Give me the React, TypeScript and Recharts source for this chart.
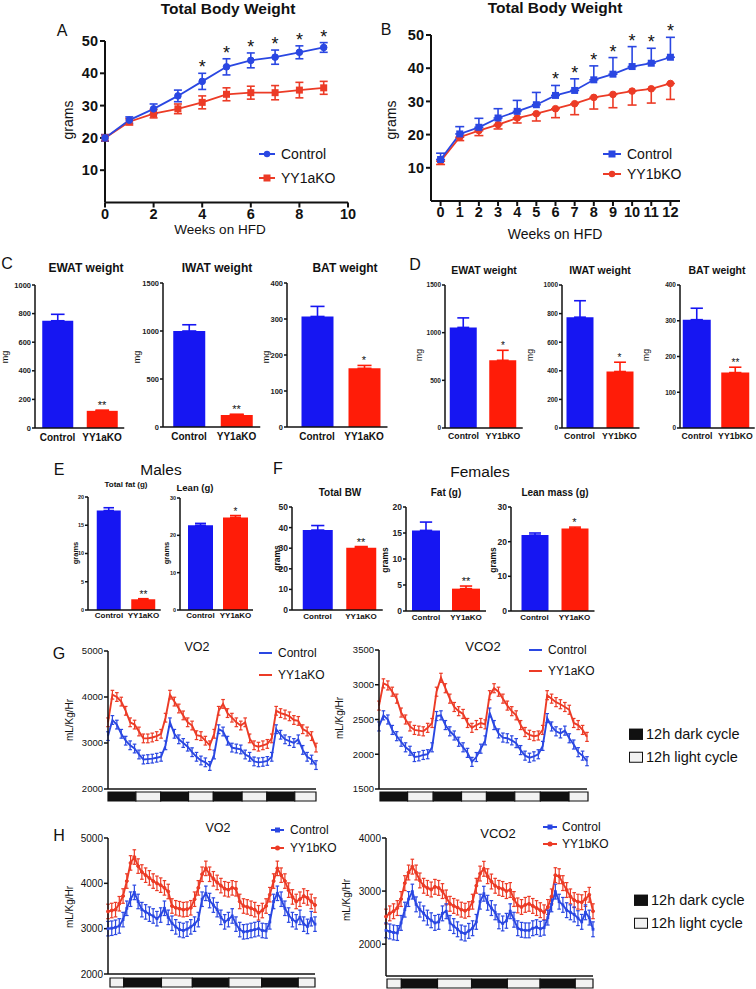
import React from "react";
import { Bar, BarChart, ComposedChart, ErrorBar, Line, Scatter, XAxis, YAxis } from "recharts";

// Colours picked off the figure: lines are a softer blue/red than the solid bars.
const BLUE = "#2a47e2";
const RED = "#ec3b26";
const BAR_BLUE = "#1616f2";
const BAR_RED = "#ff1c08";
const INK = "#111";
const FONT = "'Liberation Sans', Arial, Helvetica, sans-serif";

// ── A: total body weight, YY1aKO ─────────────────────────────────────
const WEEKS_A = [0, 1, 2, 3, 4, 5, 6, 7, 8, 9];
const A_CTRL = [20, 25.5, 29, 33, 37.5, 42, 44, 45, 46.5, 48];
const A_CTRL_SEM = [1, 1, 1.5, 1.8, 2.5, 2.5, 2.3, 2.2, 2, 1.5];
const A_KO = [20, 25, 27.5, 29, 31, 33.5, 34, 34, 34.8, 35.5];
const A_KO_SEM = [1, 1, 1.3, 1.5, 2, 2, 2, 2.2, 2.4, 2];
const A_SIG = [false, false, false, false, true, true, true, true, true, true];
const A_XTICKS = [0, 2, 4, 6, 8, 10];

// ── B: total body weight, YY1bKO ─────────────────────────────────────
const WEEKS_B = [0, 1, 2, 3, 4, 5, 6, 7, 8, 9, 10, 11, 12];
const B_CTRL = [12.5, 20.2, 22.2, 25, 27, 29, 31.8, 33.3, 36.5, 38.2, 40.5, 41.5, 43.3];
const B_CTRL_SEM = [1.9, 2.2, 2.7, 2.8, 3.3, 3.7, 3, 3.5, 4.2, 5, 6, 4.5, 6];
const B_KO = [12, 19.2, 21.2, 23, 25, 26.3, 27.8, 29.3, 31.2, 32.1, 33.1, 33.8, 35.4];
const B_KO_SEM = [1, 1, 1.5, 1.3, 1.5, 2.2, 2.7, 3.3, 3.5, 4, 4.2, 4.3, 4.8];
const B_SIG = [false, false, false, false, false, false, true, true, true, true, true, true, true];

const BW_YTICKS = [10, 20, 30, 40, 50];

// ── C / D / E / F: fat depots and body composition ───────────────────
const CATS_A = ["Control", "YY1aKO"];
const CATS_B = ["Control", "YY1bKO"];

const C_EWAT = [750, 120];
const C_EWAT_SEM = [45, 5];
const C_EWAT_SIG = ["", "**"];
const C_IWAT = [1000, 125];
const C_IWAT_SEM = [65, 8];
const C_IWAT_SIG = ["", "**"];
const C_BAT = [307, 163];
const C_BAT_SEM = [28, 8];
const C_BAT_SIG = ["", "*"];

const D_EWAT = [1055, 710];
const D_EWAT_SEM = [100, 105];
const D_EWAT_SIG = ["", "*"];
const D_IWAT = [775, 395];
const D_IWAT_SEM = [115, 65];
const D_IWAT_SIG = ["", "*"];
const D_BAT = [303, 155];
const D_BAT_SEM = [32, 15];
const D_BAT_SIG = ["", "**"];

const E_FAT = [17.6, 1.9];
const E_FAT_SEM = [0.5, 0.1];
const E_FAT_SIG = ["", "**"];
const E_LEAN = [22.7, 24.8];
const E_LEAN_SEM = [0.5, 0.5];
const E_LEAN_SIG = ["", "*"];

const F_BW = [38.8, 30.2];
const F_BW_SEM = [2.2, 0.6];
const F_BW_SIG = ["", "**"];
const F_FAT = [15.5, 4.3];
const F_FAT_SEM = [1.6, 0.5];
const F_FAT_SIG = ["", "**"];
const F_LEAN = [21.9, 23.8];
const F_LEAN_SEM = [0.6, 0.4];
const F_LEAN_SIG = ["", "*"];

// ── G: indirect calorimetry, YY1aKO (2 h bins over 4 days) ───────────
const G_VO2_CTRL = [
  3150, 3500, 3400, 3200, 3050, 2950, 2880, 2750, 2640, 2650, 2660, 2680,
  2700, 2950, 3450, 3200, 3080, 3000, 2920, 2800, 2700, 2620, 2580, 2500,
  2750, 3300, 3250, 3050, 2900, 2880, 2860, 2750, 2700, 2600, 2580, 2590,
  2610, 2700, 3300, 3180, 3080, 3040, 3000, 3080, 2850, 2700, 2640, 2520,
];
const G_VO2_KO = [
  3450, 4050, 4000, 3900, 3700, 3450, 3400, 3250, 3100, 3100, 3120, 3150,
  3200, 3550, 4050, 3900, 3750, 3600, 3450, 3380, 3170, 3150, 3050, 2950,
  3200, 3700, 3850, 3650, 3550, 3450, 3380, 3450, 3100, 2950, 2920, 2950,
  2980, 3100, 3700, 3650, 3620, 3580, 3500, 3480, 3300, 3250, 3150, 2900,
];
const G_VCO2_CTRL = [
  2400, 2560, 2500, 2350, 2260, 2180, 2100, 2050, 1960, 1970, 1990, 2000,
  2100, 2550, 2560, 2420, 2330, 2270, 2180, 2100, 2020, 1890, 1960, 2080,
  2200, 2600, 2420, 2300, 2240, 2230, 2200, 2160, 2060, 1980, 1950, 1970,
  2000, 2120, 2520, 2400, 2330, 2300, 2340, 2230, 2140, 2030, 1980, 1900,
];
const G_VCO2_KO = [
  2700, 3020, 2990, 2900, 2800, 2600, 2500, 2400, 2350, 2340, 2330, 2380,
  2450, 2900, 3100, 2950, 2800, 2680, 2620, 2580, 2450, 2380, 2420, 2450,
  2430, 2850, 2950, 2900, 2800, 2700, 2620, 2560, 2420, 2320, 2280, 2260,
  2270, 2350, 2850, 2800, 2750, 2720, 2680, 2640, 2450, 2420, 2350, 2250,
];
const G_VO2_SEM = 95;
const G_VCO2_SEM = 65;
// dark/light strip, segment lengths in bins (starts dark)
const G_VO2_CYCLE = [6.3, 5.6, 6.3, 5.6, 6.5, 5.6, 6.3, 4.8];
const G_VCO2_CYCLE = [6.24, 5.79, 6.39, 5.64, 6.39, 5.79, 6.47, 4.29];

// ── H: indirect calorimetry, YY1bKO ──────────────────────────────────
const H_VO2_CTRL = [
  3000, 3010, 3030, 3060, 3200, 3450, 3650, 3800, 3600, 3420, 3370, 3320, 3280, 3220,
  3300, 3450, 3250, 3120, 3040, 2980, 2960, 2990, 3040, 3100, 3200, 3650, 3780, 3620,
  3520, 3420, 3250, 3150, 3200, 3280, 3100, 2980, 2930, 2940, 2960, 2980, 3000, 2960,
  2950, 3150, 3600, 3780, 3650, 3450, 3300, 3200, 3150, 3250, 3100, 3050, 3220, 3100,
];
const H_VO2_KO = [
  3380, 3400, 3420, 3550, 3720, 4050, 4450, 4580, 4380, 4250, 4180, 4120, 4050, 4000,
  3960, 3900, 3820, 3500, 3460, 3440, 3420, 3430, 3460, 3650, 3900, 4200, 4330, 4200,
  4100, 4020, 3950, 3880, 3860, 3900, 3880, 3600, 3500, 3480, 3450, 3420, 3350, 3400,
  3500, 3750, 4050, 4330, 4180, 4050, 3850, 3700, 3600, 3650, 3720, 3680, 3600, 3520,
];
const H_VCO2_CTRL = [
  2260, 2240, 2220, 2210, 2400, 2650, 2850, 2990, 2750, 2650, 2580, 2500, 2450, 2400,
  2420, 2580, 2620, 2400, 2340, 2280, 2220, 2200, 2250, 2300, 2420, 2800, 2950, 2780,
  2680, 2600, 2430, 2390, 2440, 2620, 2460, 2300, 2270, 2260, 2260, 2300, 2320, 2290,
  2310, 2500, 2750, 2990, 2800, 2740, 2640, 2600, 2560, 2490, 2420, 2600, 2500, 2280,
];
const H_VCO2_KO = [
  2520, 2580, 2620, 2680, 2850, 3150, 3350, 3460, 3350, 3200, 3100, 3060, 3030, 3080,
  3060, 3000, 2880, 2760, 2720, 2690, 2650, 2630, 2660, 2800, 3100, 3330, 3420, 3280,
  3180, 3100, 3060, 3040, 3000, 3020, 2850, 2730, 2700, 2740, 2760, 2720, 2680, 2640,
  2600, 2700, 2900, 3300, 3280, 3150, 3020, 2900, 2830, 2800, 2790, 2850, 2930, 2620,
];
const H_VO2_SEM = 160;
const H_VCO2_SEM = 140;
// starts light
const H_VO2_CYCLE = [3.7, 10.1, 8.3, 9.8, 8.8, 9.8, 4.5];
const H_VCO2_CYCLE = [3.84, 9.64, 9.1, 9.55, 8.75, 9.38, 4.74];

// ── helpers ──────────────────────────────────────────────────────────
// Place a chart so its plot area lands on the given page rectangle.
function frame(x0: number, y0: number, x1: number, y1: number, yw: number, xh: number, pad = 14) {
  return {
    style: { position: "absolute" as const, left: x0 - yw - pad, top: y0 - pad },
    width: x1 - x0 + yw + 2 * pad,
    height: y1 - y0 + xh + 2 * pad,
    margin: { left: pad, top: pad, right: pad, bottom: pad },
  };
}

function T({ x, y, s = 12, w = 400, r = 0, left = false, children }: any) {
  return (
    <div
      style={{
        position: "absolute",
        left: x,
        top: y,
        transform: `translate(${left ? "0" : "-50%"}, -50%) rotate(${r}deg)`,
        fontSize: s,
        fontWeight: w,
        lineHeight: 1,
        whiteSpace: "nowrap",
        color: INK,
      }}
    >
      {children}
    </div>
  );
}

function LegendRow({ x, y, color, label, marker, size = 13, len = 16, gap = 6 }: any) {
  return (
    <div
      style={{
        position: "absolute",
        left: x,
        top: y,
        transform: "translateY(-50%)",
        display: "flex",
        alignItems: "center",
        gap,
        fontSize: size,
        lineHeight: 1,
        whiteSpace: "nowrap",
      }}
    >
      <svg width={len} height={10}>
        <line x1={0} x2={len} y1={5} y2={5} stroke={color} strokeWidth={2} />
        {marker === "circle" && <circle cx={len / 2} cy={5} r={3.2} fill={color} />}
        {marker === "square" && <rect x={len / 2 - 3.5} y={1.5} width={7} height={7} fill={color} />}
        {marker === "smallsquare" && <rect x={len / 2 - 2.5} y={2.5} width={5} height={5} fill={color} />}
        {marker === "smallcircle" && <circle cx={len / 2} cy={5} r={2.5} fill={color} />}
      </svg>
      <span>{label}</span>
    </div>
  );
}

function CycleKey({ x, y, dark }: any) {
  return (
    <div style={{ position: "absolute", left: x, top: y, transform: "translateY(-50%)", display: "flex", alignItems: "center", gap: 3, fontSize: 14.5, lineHeight: 1, whiteSpace: "nowrap" }}>
      <div style={{ width: 12, height: 9, background: dark ? INK : "#f2f2f2", border: `1px solid ${INK}` }} />
      <span>{dark ? "12h dark cycle" : "12h light cycle"}</span>
    </div>
  );
}

const circleDot = (color: string, r: number) => (p: any) =>
  p.cx == null ? <g key={p.index} /> : <circle key={p.index} cx={p.cx} cy={p.cy} r={r} fill={color} stroke={color} />;
const squareDot = (color: string, s: number) => (p: any) =>
  p.cx == null ? <g key={p.index} /> : <rect key={p.index} x={p.cx - s / 2} y={p.cy - s / 2} width={s} height={s} fill={color} />;

function starShape(size: number, lift: number) {
  return (p: any) => {
    if (!p || p.payload == null || p.payload.star == null || p.cy == null) return <g />;
    return (
      <text x={p.cx} y={p.cy - lift} textAnchor="middle" fontSize={size} fill={INK} fontFamily={FONT}>
        {p.payload.mark}
      </text>
    );
  };
}

const axisStyle = (w: number) => ({ stroke: INK, strokeWidth: w });

// ── body weight curves ───────────────────────────────────────────────
function GrowthChart({ plot, weeks, ctl, ctlSem, ko, koSem, sig, xDomain, xTicks, oneSided, ctlDot, koDot, cap }: any) {
  const [x0, y0, x1, y1] = plot;
  const rows = weeks.map((w: number, i: number) => ({
    w,
    ctl: ctl[i],
    ko: ko[i],
    ctlE: oneSided ? [0, ctlSem[i]] : ctlSem[i],
    koE: oneSided ? [koSem[i], 0] : koSem[i],
    star: sig[i] ? ctl[i] + ctlSem[i] : null,
    mark: "*",
  }));
  const f = frame(x0, y0, x1, y1, 34, 24, 24);
  return (
    <div style={f.style}>
      <ComposedChart width={f.width} height={f.height} data={rows} margin={f.margin}>
        <XAxis
          type="number"
          dataKey="w"
          domain={xDomain}
          ticks={xTicks}
          interval={0}
          height={24}
          tick={{ fontSize: 14.5, fontWeight: 700, fill: INK }}
          tickSize={5}
          tickMargin={1}
          axisLine={axisStyle(2)}
          tickLine={axisStyle(2)}
        />
        <YAxis
          domain={[0, 50]}
          ticks={BW_YTICKS}
          width={34}
          tick={{ fontSize: 14.5, fontWeight: 700, fill: INK }}
          tickSize={5}
          tickMargin={2}
          axisLine={axisStyle(2)}
          tickLine={axisStyle(2)}
        />
        <Line dataKey="ko" stroke={RED} strokeWidth={1.8} dot={koDot} isAnimationActive={false}>
          <ErrorBar dataKey="koE" width={cap} stroke={RED} strokeWidth={1.6} direction="y" />
        </Line>
        <Line dataKey="ctl" stroke={BLUE} strokeWidth={1.8} dot={ctlDot} isAnimationActive={false}>
          <ErrorBar dataKey="ctlE" width={cap} stroke={BLUE} strokeWidth={1.6} direction="y" />
        </Line>
        <Scatter dataKey="star" shape={starShape(18, 0)} isAnimationActive={false} />
      </ComposedChart>
    </div>
  );
}

// ── two-bar panels ───────────────────────────────────────────────────
function BarPanel({ cats, vals, errs, sig, domain, ticks, axisX, c1, c2, barW, top, bottom, tf, cf, sf, catGap }: any) {
  const band = c2 - c1;
  const x1 = c2 + band / 2;
  const padL = c1 - band / 2 - axisX;
  const rows = cats.map((c: string, i: number) => ({
    cat: c,
    ctl: i === 0 ? vals[i] : 0,
    ko: i === 1 ? vals[i] : 0,
    ctlE: i === 0 ? [0, errs[i]] : null,
    koE: i === 1 ? [0, errs[i]] : null,
    star: sig[i] ? vals[i] + errs[i] : null,
    mark: sig[i],
  }));
  const f = frame(axisX, top, x1, bottom, 28, 16, 12);
  return (
    <div style={f.style}>
      <ComposedChart width={f.width} height={f.height} data={rows} margin={f.margin}>
        <XAxis
          dataKey="cat"
          type="category"
          padding={{ left: padL, right: 0 }}
          interval={0}
          height={16}
          tickLine={false}
          tickSize={0}
          tickMargin={catGap}
          tick={{ fontSize: cf, fontWeight: 700, fill: INK }}
          axisLine={axisStyle(1.5)}
        />
        <YAxis
          domain={domain}
          ticks={ticks}
          interval={0}
          width={28}
          tick={{ fontSize: tf, fontWeight: 700, fill: "#222" }}
          tickSize={3}
          tickMargin={1}
          axisLine={axisStyle(1.5)}
          tickLine={axisStyle(1.5)}
        />
        <Bar dataKey="ctl" stackId="b" fill={BAR_BLUE} barSize={barW} isAnimationActive={false}>
          <ErrorBar dataKey="ctlE" width={barW * 0.22} stroke={BAR_BLUE} strokeWidth={1.6} direction="y" />
        </Bar>
        <Bar dataKey="ko" stackId="b" fill={BAR_RED} barSize={barW} isAnimationActive={false}>
          <ErrorBar dataKey="koE" width={barW * 0.22} stroke={BAR_RED} strokeWidth={1.6} direction="y" />
        </Bar>
        <Scatter dataKey="star" shape={starShape(sf, 1)} isAnimationActive={false} />
      </ComposedChart>
    </div>
  );
}

// ── calorimetry traces ───────────────────────────────────────────────
function MetabChart({ plot, domain, ticks, ctl, ko, sem, dots, tf }: any) {
  const [x0, y0, x1, y1] = plot;
  const rows = ctl.map((v: number, i: number) => ({ i, ctl: v, ko: ko[i], ctlE: sem, koE: sem }));
  const f = frame(x0, y0, x1, y1, 34, 2, 8);
  return (
    <div style={f.style}>
      <ComposedChart width={f.width} height={f.height} data={rows} margin={f.margin}>
        <XAxis type="number" dataKey="i" domain={[0, ctl.length - 1]} tick={false} tickLine={false} height={2} axisLine={axisStyle(1.5)} />
        <YAxis
          domain={domain}
          ticks={ticks}
          interval={0}
          width={34}
          allowDataOverflow
          tick={{ fontSize: tf, fill: INK }}
          tickSize={4}
          tickMargin={1}
          axisLine={axisStyle(1.5)}
          tickLine={axisStyle(1.5)}
        />
        <Line dataKey="ko" stroke={RED} strokeWidth={1.9} dot={dots ? circleDot(RED, 1.5) : false} isAnimationActive={false}>
          <ErrorBar dataKey="koE" width={1.8} stroke={RED} strokeWidth={1.2} direction="y" />
        </Line>
        <Line dataKey="ctl" stroke={BLUE} strokeWidth={1.9} dot={dots ? squareDot(BLUE, 2.8) : false} isAnimationActive={false}>
          <ErrorBar dataKey="ctlE" width={1.8} stroke={BLUE} strokeWidth={1.2} direction="y" />
        </Line>
      </ComposedChart>
    </div>
  );
}

function CycleStrip({ x0, x1, y, h, segs, startDark }: any) {
  const row: any = { name: "cycle" };
  segs.forEach((s: number, k: number) => (row["s" + k] = s));
  const total = segs.reduce((a: number, b: number) => a + b, 0);
  return (
    <div style={{ position: "absolute", left: x0 - 1, top: y - 1 }}>
      <BarChart width={x1 - x0 + 2} height={h + 2} data={[row]} layout="vertical" margin={{ top: 1, right: 1, bottom: 1, left: 1 }} barCategoryGap={0}>
        <XAxis type="number" domain={[0, total]} hide />
        <YAxis type="category" dataKey="name" hide />
        {segs.map((_: number, k: number) => (
          <Bar
            key={k}
            dataKey={"s" + k}
            stackId="c"
            fill={(k % 2 === 0) === startDark ? INK : "#f2f2f2"}
            stroke={INK}
            strokeWidth={1.2}
            isAnimationActive={false}
          />
        ))}
      </BarChart>
    </div>
  );
}

export default function App() {
  return (
    <div style={{ position: "relative", width: 756, height: 989, background: "#fff", fontFamily: FONT, color: INK, overflow: "hidden" }}>
      <style>{"body{margin:0}"}</style>

      {/* A */}
      <T x={228} y={9} s={15.5} w={700}>Total Body Weight</T>
      <T x={62} y={31} s={16}>A</T>
      <T x={68} y={120} s={14} r={-90}>grams</T>
      <T x={220} y={230} s={13.5}>Weeks on HFD</T>
      <GrowthChart
        plot={[105, 40.5, 348, 202]}
        weeks={WEEKS_A}
        ctl={A_CTRL}
        ctlSem={A_CTRL_SEM}
        ko={A_KO}
        koSem={A_KO_SEM}
        sig={A_SIG}
        xDomain={[0, 10]}
        xTicks={A_XTICKS}
        oneSided={false}
        ctlDot={circleDot(BLUE, 3.3)}
        koDot={squareDot(RED, 7)}
        cap={4}
      />
      <LegendRow x={259} y={154} color={BLUE} label="Control" marker="circle" size={14} />
      <LegendRow x={259} y={178} color={RED} label="YY1aKO" marker="square" size={14} />

      {/* B */}
      <T x={555} y={8} s={15.5} w={700}>Total Body Weight</T>
      <T x={386} y={30} s={16}>B</T>
      <T x={391} y={120} s={14} r={-90}>grams</T>
      <T x={555} y={234} s={14}>Weeks on HFD</T>
      <GrowthChart
        plot={[431, 35, 680, 201]}
        weeks={WEEKS_B}
        ctl={B_CTRL}
        ctlSem={B_CTRL_SEM}
        ko={B_KO}
        koSem={B_KO_SEM}
        sig={B_SIG}
        xDomain={[-0.5, 12.5]}
        xTicks={WEEKS_B}
        oneSided
        ctlDot={squareDot(BLUE, 7)}
        koDot={circleDot(RED, 3.3)}
        cap={4.5}
      />
      <LegendRow x={603} y={154} color={BLUE} label="Control" marker="square" size={14} len={18} />
      <LegendRow x={603} y={174} color={RED} label="YY1bKO" marker="circle" size={14} len={18} />

      {/* C */}
      <T x={7} y={264} s={16}>C</T>
      <T x={86} y={268} s={12} w={700}>EWAT weight</T>
      <T x={217} y={268} s={12} w={700}>IWAT weight</T>
      <T x={345} y={268} s={12} w={700}>BAT weight</T>
      <T x={5} y={357} s={9} r={-90}>mg</T>
      <T x={137} y={357} s={9} r={-90}>mg</T>
      <T x={266} y={357} s={9} r={-90}>mg</T>
      <BarPanel cats={CATS_A} vals={C_EWAT} errs={C_EWAT_SEM} sig={C_EWAT_SIG} domain={[0, 1000]} ticks={[0, 200, 400, 600, 800, 1000]}
        axisX={35} c1={57.5} c2={102} barW={31} top={285} bottom={428} tf={7.5} cf={10} sf={11} catGap={6} />
      <BarPanel cats={CATS_A} vals={C_IWAT} errs={C_IWAT_SEM} sig={C_IWAT_SIG} domain={[0, 1500]} ticks={[0, 500, 1000, 1500]}
        axisX={163} c1={189} c2={236.5} barW={32} top={283} bottom={427} tf={7.5} cf={10} sf={11} catGap={6} />
      <BarPanel cats={CATS_A} vals={C_BAT} errs={C_BAT_SEM} sig={C_BAT_SIG} domain={[0, 400]} ticks={[0, 100, 200, 300, 400]}
        axisX={287} c1={317} c2={364} barW={32} top={283} bottom={427} tf={7.5} cf={10} sf={11} catGap={6} />

      {/* D */}
      <T x={415} y={265} s={16}>D</T>
      <T x={484} y={270} s={10.5} w={700}>EWAT weight</T>
      <T x={600} y={270} s={10.5} w={700}>IWAT weight</T>
      <T x={717} y={270} s={10.5} w={700}>BAT weight</T>
      <T x={419} y={355} s={8.5} r={-90}>mg</T>
      <T x={530} y={355} s={8.5} r={-90}>mg</T>
      <T x={646} y={355} s={8.5} r={-90}>mg</T>
      <BarPanel cats={CATS_B} vals={D_EWAT} errs={D_EWAT_SEM} sig={D_EWAT_SIG} domain={[0, 1500]} ticks={[0, 500, 1000, 1500]}
        axisX={445} c1={463.5} c2={503} barW={27} top={285} bottom={428} tf={6.5} cf={8.7} sf={10} catGap={5} />
      <BarPanel cats={CATS_B} vals={D_IWAT} errs={D_IWAT_SEM} sig={D_IWAT_SIG} domain={[0, 1000]} ticks={[0, 200, 400, 600, 800, 1000]}
        axisX={562} c1={579.5} c2={619.5} barW={27} top={285} bottom={428} tf={6.5} cf={8.7} sf={10} catGap={5} />
      <BarPanel cats={CATS_B} vals={D_BAT} errs={D_BAT_SEM} sig={D_BAT_SIG} domain={[0, 400]} ticks={[0, 100, 200, 300, 400]}
        axisX={680} c1={697} c2={735.5} barW={28} top={285} bottom={428} tf={6.5} cf={8.7} sf={10} catGap={5} />

      {/* E / F */}
      <T x={59} y={470} s={16}>E</T>
      <T x={161} y={470} s={15.5}>Males</T>
      <T x={278} y={469} s={16}>F</T>
      <T x={480} y={472} s={15.5}>Females</T>
      <T x={126} y={485} s={8} w={700}>Total fat (g)</T>
      <T x={195} y={488} s={9.5} w={700}>Lean (g)</T>
      <T x={340} y={493} s={10} w={700}>Total BW</T>
      <T x={446} y={493} s={10} w={700}>Fat (g)</T>
      <T x={555} y={493} s={10} w={700}>Lean mass (g)</T>
      <T x={76} y={553} s={7.5} w={700} r={-90}>grams</T>
      <T x={167} y={553} s={7.5} w={700} r={-90}>grams</T>
      <T x={277} y={558} s={8.5} w={700} r={-90}>grams</T>
      <T x={385} y={560} s={8.5} w={700} r={-90}>grams</T>
      <T x={493} y={560} s={8.5} w={700} r={-90}>grams</T>
      <BarPanel cats={CATS_A} vals={E_FAT} errs={E_FAT_SEM} sig={E_FAT_SIG} domain={[0, 20]} ticks={[0, 5, 10, 15, 20]}
        axisX={88} c1={109} c2={143.5} barW={24} top={497} bottom={610} tf={5.5} cf={8} sf={10} catGap={2} />
      <BarPanel cats={CATS_A} vals={E_LEAN} errs={E_LEAN_SEM} sig={E_LEAN_SIG} domain={[0, 30]} ticks={[0, 10, 20, 30]}
        axisX={180} c1={200.5} c2={235.5} barW={25} top={498} bottom={610} tf={5.5} cf={8} sf={10} catGap={2} />
      <BarPanel cats={CATS_A} vals={F_BW} errs={F_BW_SEM} sig={F_BW_SIG} domain={[0, 50]} ticks={[0, 10, 20, 30, 40, 50]}
        axisX={292} c1={317.5} c2={361} barW={30} top={507} bottom={610} tf={8.5} cf={8} sf={11} catGap={3} />
      <BarPanel cats={CATS_A} vals={F_FAT} errs={F_FAT_SEM} sig={F_FAT_SIG} domain={[0, 20]} ticks={[0, 5, 10, 15, 20]}
        axisX={406} c1={426} c2={466} barW={28} top={507} bottom={611} tf={8.5} cf={8} sf={11} catGap={3} />
      <BarPanel cats={CATS_A} vals={F_LEAN} errs={F_LEAN_SEM} sig={F_LEAN_SIG} domain={[0, 30]} ticks={[0, 10, 20, 30]}
        axisX={511} c1={534.5} c2={574.5} barW={27} top={507} bottom={611} tf={8.5} cf={8} sf={11} catGap={3} />

      {/* G */}
      <T x={59} y={654} s={16}>G</T>
      <T x={197} y={647} s={12.5}>VO2</T>
      <T x={483} y={646} s={13}>VCO2</T>
      <T x={70} y={720} s={10} r={-90}>mL/Kg/Hr</T>
      <T x={340} y={718} s={10} r={-90}>mL/Kg/Hr</T>
      <MetabChart plot={[108, 651, 316, 789]} domain={[2000, 5000]} ticks={[2000, 3000, 4000, 5000]} ctl={G_VO2_CTRL} ko={G_VO2_KO} sem={G_VO2_SEM} dots={false} tf={9.5} />
      <CycleStrip x0={108} x1={316} y={792} h={9} segs={G_VO2_CYCLE} startDark />
      <MetabChart plot={[379, 650, 587, 789]} domain={[1500, 3500]} ticks={[1500, 2000, 2500, 3000, 3500]} ctl={G_VCO2_CTRL} ko={G_VCO2_KO} sem={G_VCO2_SEM} dots={false} tf={9.5} />
      <CycleStrip x0={380} x1={588} y={792} h={9} segs={G_VCO2_CYCLE} startDark />
      <LegendRow x={259} y={653} color={BLUE} label="Control" marker="none" size={12} len={13} gap={6} />
      <LegendRow x={259} y={675} color={RED} label="YY1aKO" marker="none" size={12} len={13} gap={6} />
      <LegendRow x={529} y={650} color={BLUE} label="Control" marker="none" size={12} len={13} gap={6} />
      <LegendRow x={529} y={671} color={RED} label="YY1aKO" marker="none" size={12} len={13} gap={6} />
      <CycleKey x={629} y={734} dark />
      <CycleKey x={629} y={757} dark={false} />

      {/* H */}
      <T x={59} y={836} s={16}>H</T>
      <T x={218} y={828} s={12.5}>VO2</T>
      <T x={498} y={833} s={13}>VCO2</T>
      <T x={70} y={907} s={10} r={-90}>mL/Kg/Hr</T>
      <T x={347} y={900} s={10} r={-90}>mL/Kg/Hr</T>
      <MetabChart plot={[108, 838, 315, 974]} domain={[2000, 5000]} ticks={[2000, 3000, 4000, 5000]} ctl={H_VO2_CTRL} ko={H_VO2_KO} sem={H_VO2_SEM} dots tf={10} />
      <CycleStrip x0={110} x1={315} y={978} h={9} segs={H_VO2_CYCLE} startDark={false} />
      <MetabChart plot={[386, 838, 593, 976]} domain={[1400, 4000]} ticks={[2000, 3000, 4000]} ctl={H_VCO2_CTRL} ko={H_VCO2_KO} sem={H_VCO2_SEM} dots tf={10} />
      <CycleStrip x0={387} x1={593} y={979} h={9} segs={H_VCO2_CYCLE} startDark={false} />
      <LegendRow x={271} y={830} color={BLUE} label="Control" marker="smallsquare" size={12} len={13} gap={6} />
      <LegendRow x={271} y={848} color={RED} label="YY1bKO" marker="smallcircle" size={12} len={13} gap={6} />
      <LegendRow x={543} y={827} color={BLUE} label="Control" marker="smallsquare" size={12} len={14} gap={5} />
      <LegendRow x={543} y={844} color={RED} label="YY1bKO" marker="smallcircle" size={12} len={14} gap={5} />
      <CycleKey x={634} y={900} dark />
      <CycleKey x={634} y={923} dark={false} />
    </div>
  );
}
